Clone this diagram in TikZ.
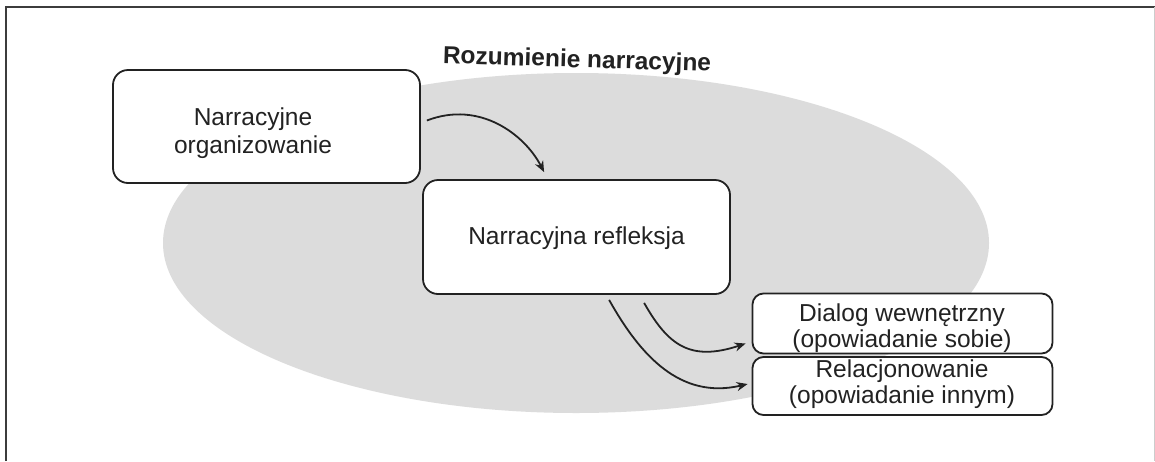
\documentclass[tikz,border=0pt]{standalone}
\usepackage{fontspec}
\setmainfont{Liberation Sans}
\usetikzlibrary{arrows.meta,calc}
\definecolor{ink}{RGB}{34,34,34}
\definecolor{ovalgray}{RGB}{220,220,220}
\definecolor{framegray}{RGB}{60,60,60}
\begin{document}
\begin{tikzpicture}[x=1pt,y=-1pt,
  box/.style={draw=ink, line width=1.8pt, fill=white, rounded corners=15pt, inner sep=0pt},
  smallbox/.style={box, rounded corners=11pt},
  label/.style={text=ink, font=\fontsize{24.5}{28}\selectfont, align=center, inner sep=0pt},
  smalllabel/.style={label, font=\fontsize{24.5}{26}\selectfont},
  title/.style={text=ink, font=\fontsize{24.5}{28}\selectfont\bfseries, inner sep=0pt},
  flow/.style={draw=ink, line width=1.8pt, -{Stealth[length=11pt,width=9pt]}}]
\useasboundingbox (0,0) rectangle (1155,461);
\fill[white] (0,0) rectangle (1155,461);
% frame
\draw[framegray, line width=2pt] (6,461) -- (6,7) -- (1155,7);
\draw[gray!40, line width=1pt] (1154,7) -- (1154,461);
% the shared area of narrative understanding
\fill[ovalgray] (576,243) ellipse [x radius=413, y radius=170];
\node[title, rotate=-1.7] (title) at (577,61) {Rozumienie narracyjne};
% boxes
\node[box, minimum width=307pt, minimum height=113pt] (b1) at (266.5,126.5) {};
\node[label] (t1) at (253,133) {Narracyjne\\organizowanie};
\node[box, minimum width=307pt, minimum height=114pt] (b2) at (576.5,237) {};
\node[label] (t2) at (576.5,238.5) {Narracyjna refleksja};
\node[smallbox, minimum width=300pt, minimum height=60pt] (b3) at (902.5,323.5) {};
\node[smalllabel] (t3) at (902,328.5) {Dialog wewnętrzny\\(opowiadanie sobie)};
\node[smallbox, minimum width=300pt, minimum height=58pt] (b4) at (902.5,386) {};
\node[smalllabel] (t4) at (902,384.5) {Relacjonowanie\\(opowiadanie innym)};
% connectors
\draw[flow] ($(b1.east)+(6,-6)$) .. controls (480,100) and (525,135) .. ($(b2.north west)+(122,-7)$);
\draw[flow] ($(b2.south west)+(222,8)$) .. controls (668,345) and (690,362) .. ($(b3.west)+(-6,20)$);
\draw[flow] ($(b2.south west)+(187,5)$) .. controls (640,355) and (680,400) .. ($(b4.west)+(-4,-2)$);
\end{tikzpicture}
\end{document}
